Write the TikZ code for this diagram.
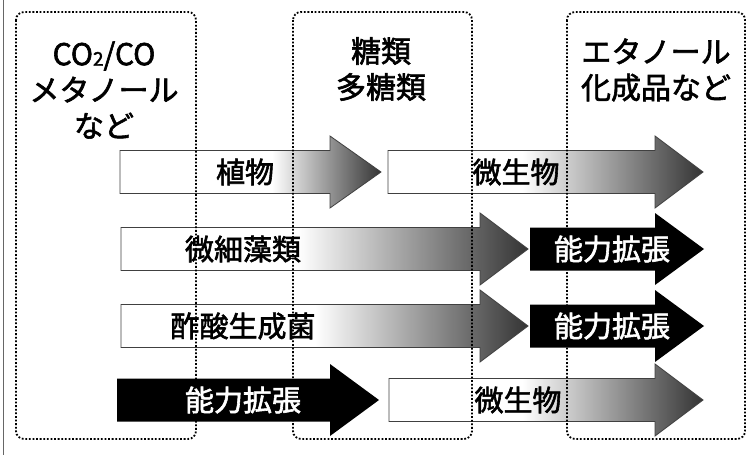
\documentclass[tikz,border=0pt]{standalone}
\usepackage{fontspec}
\setmainfont{Noto Sans CJK JP}[FakeBold=2]
\begin{document}
\begin{tikzpicture}[x=1pt,y=-1pt,
  hdr/.style={font=\fontsize{30}{36}\selectfont, align=center, inner sep=0pt},
  lbl/.style={font=\fontsize{29}{34}\selectfont, inner sep=0pt},
  wlbl/.style={lbl, text=white},
  zone/.style={draw=black, line width=1.8pt, dash pattern=on 1.8pt off 1.8pt, rounded corners=8pt},
  outline/.style={draw=black!75, line width=0.8pt},
  darkend/.style={left color=white, right color=black!80}
]
\useasboundingbox (0,0) rectangle (751,455);
\def\bh{21.5}
\def\hh{36}
% arrow path macro: #1 left x, #2 head start x, #3 tip x, #4 centre y
\newcommand\myarrowpath[4]{(#1,#4-\bh) -- (#2,#4-\bh) -- (#2,#4-\hh) -- (#3,#4) -- (#2,#4+\hh) -- (#2,#4+\bh) -- (#1,#4+\bh) -- cycle}
% gradient arrow: #1 left, #2 head start, #3 tip, #4 centre y, #5 gradient start
\newcommand\gradarrow[5]{%
  \fill[white] \myarrowpath{#1}{#2}{#3}{#4};
  \begin{scope}
    \clip \myarrowpath{#1}{#2}{#3}{#4};
    \shade[darkend] (#5,#4-\hh-1) rectangle (#3+1,#4+\hh+1);
  \end{scope}
  \draw[outline] \myarrowpath{#1}{#2}{#3}{#4};
}
\newcommand\blackarrow[4]{\fill[black] \myarrowpath{#1}{#2}{#3}{#4};}

% left frame line
\draw[black!60, line width=1pt] (3,0) -- (3,455);

% row 1
\gradarrow{120}{330}{381}{172}{272}
\gradarrow{388}{655}{703}{172}{522}
% row 2
\gradarrow{121}{480}{528}{249}{298}
\blackarrow{530}{655}{704}{249}
% row 3
\gradarrow{121}{480}{528}{326}{315}
\blackarrow{530}{655}{704}{326}
% row 4
\blackarrow{117}{330}{379}{400}
\gradarrow{389}{655}{703}{400}{522}

% zones (drawn on top)
\draw[zone] (16,12) rectangle (196,439);
\draw[zone] (293,12) rectangle (472,439);
\draw[zone] (567,12) rectangle (745,439);

% headers
\node[hdr] (h1) at (104,90) {CO\raisebox{-0.02em}{\fontsize{19}{19}\selectfont 2}/CO\\メタノール\\など};
\node[hdr] (h2) at (381,69) {糖類\\多糖類};
\node[hdr] (h3) at (656,70) {エタノール\\化成品など};

% arrow labels
\node[lbl] (r1a) at (245,172) {植物};
\node[lbl] (r1b) at (516,172) {微生物};
\node[lbl] (r2a) at (243,249) {微細藻類};
\node[wlbl] (r2b) at (612,249) {能力拡張};
\node[lbl] (r3a) at (243,326) {酢酸生成菌};
\node[wlbl] (r3b) at (612,326) {能力拡張};
\node[wlbl] (r4a) at (243,400) {能力拡張};
\node[lbl] (r4b) at (518,400) {微生物};
\end{tikzpicture}
\end{document}
